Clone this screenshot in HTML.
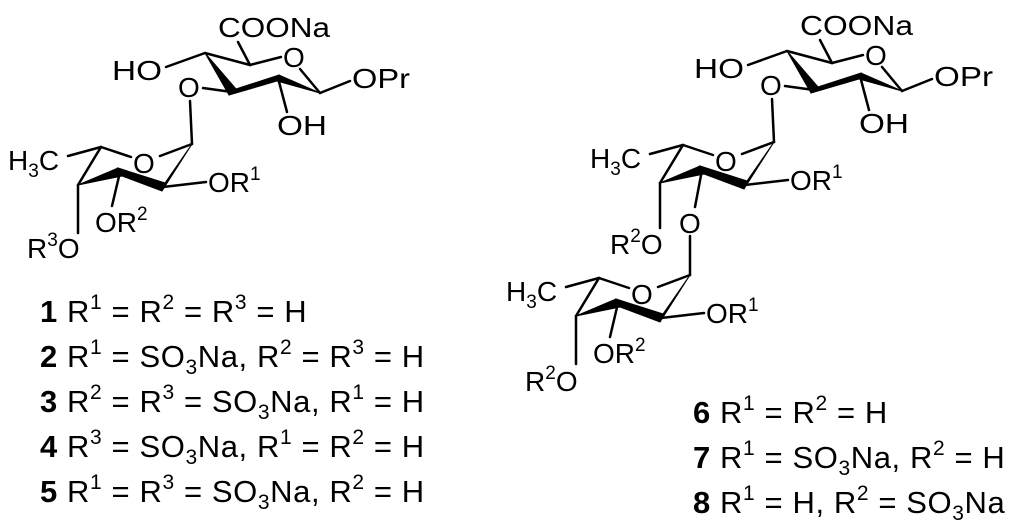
<!DOCTYPE html>
<html><head><meta charset="utf-8"><style>
html,body{margin:0;padding:0;background:#fff;}
svg{display:block;}
text{font-family:"Liberation Sans",Arial,sans-serif;fill:#000;}
</style></head><body>
<svg width="1024" height="528" viewBox="0 0 1024 528" xmlns="http://www.w3.org/2000/svg">
<defs>
<g id="top" stroke="#000" stroke-width="2.5" fill="none" stroke-linecap="round">
  <line x1="205" y1="53" x2="250" y2="65"/>
  <line x1="250" y1="65" x2="281" y2="57"/>
  <line x1="300" y1="69" x2="320" y2="93"/>
  <line x1="250" y1="65" x2="238" y2="42"/>
  <line x1="205" y1="53" x2="166" y2="67"/>
  <line x1="232" y1="92" x2="203" y2="88"/>
  <line x1="320" y1="93" x2="350" y2="81"/>
  <line x1="278" y1="78" x2="287" y2="112"/>
  <polygon points="205,53 236,89 229,95" fill="#000" stroke-width="1"/>
  <polygon points="229,95 236,89 279,75 277,81" fill="#000" stroke-width="1"/>
  <polygon points="277,81 279,75 320,93" fill="#000" stroke-width="1"/>
</g>
<g id="fuc" stroke="#000" stroke-width="2.5" fill="none" stroke-linecap="round">
  <line x1="101" y1="147" x2="131" y2="157"/>
  <line x1="160" y1="156" x2="192" y2="144"/>
  <line x1="101" y1="147" x2="78" y2="185"/>
  <line x1="101" y1="147" x2="68" y2="156"/>
  <line x1="163" y1="187" x2="206" y2="182"/>
  <polygon points="78,185 118,168 122,176" fill="#000" stroke-width="1"/>
  <polygon points="118,168 122,176 162,191 165,183" fill="#000" stroke-width="1"/>
  <polygon points="162,191 165,183 192,144" fill="#000" stroke-width="1"/>
</g>
</defs>

<!-- LEFT -->
<use href="#top"/>
<use href="#fuc"/>
<g stroke="#000" stroke-width="2.5" stroke-linecap="round">
  <line x1="190" y1="101" x2="192" y2="144"/>
  <line x1="120" y1="172" x2="112" y2="206"/>
  <line x1="78" y1="185" x2="78" y2="233"/>
</g>
<g font-size="28">
  <text x="218" y="37" textLength="112" lengthAdjust="spacingAndGlyphs">COONa</text>
  <text x="112" y="80" textLength="50" lengthAdjust="spacingAndGlyphs">HO</text>
  <text x="178" y="97">O</text>
  <text x="283" y="67">O</text>
  <text x="352" y="88" textLength="58" lengthAdjust="spacingAndGlyphs">OPr</text>
  <text x="277" y="135" textLength="50" lengthAdjust="spacingAndGlyphs">OH</text>
  <text x="133" y="173">O</text>
  <text x="8" y="170">H<tspan font-size="19" dy="7">3</tspan><tspan dy="-7">C</tspan></text>
  <text x="208" y="192">OR<tspan font-size="19" dy="-12">1</tspan></text>
  <text x="95" y="232">OR<tspan font-size="19" dy="-12">2</tspan></text>
  <text x="27" y="258">R<tspan font-size="19" dy="-12">3</tspan><tspan dy="12">O</tspan></text>
</g>

<!-- RIGHT -->
<use href="#top" transform="translate(582,-2)"/>
<use href="#fuc" transform="translate(582,-2)"/>
<use href="#fuc" transform="translate(498,131)"/>
<g stroke="#000" stroke-width="2.5" stroke-linecap="round">
  <line x1="772" y1="99" x2="774" y2="142"/>
  <line x1="702" y1="170" x2="695" y2="207"/>
  <line x1="660" y1="183" x2="660" y2="228"/>
  <line x1="690" y1="236" x2="690" y2="275"/>
  <line x1="618" y1="303" x2="610" y2="337"/>
  <line x1="576" y1="316" x2="576" y2="364"/>
</g>
<g font-size="28">
  <text x="800" y="35" textLength="113" lengthAdjust="spacingAndGlyphs">COONa</text>
  <text x="694" y="78" textLength="50" lengthAdjust="spacingAndGlyphs">HO</text>
  <text x="760" y="95">O</text>
  <text x="865" y="65">O</text>
  <text x="934" y="86" textLength="59" lengthAdjust="spacingAndGlyphs">OPr</text>
  <text x="859" y="133" textLength="50" lengthAdjust="spacingAndGlyphs">OH</text>
  <text x="715" y="171">O</text>
  <text x="590" y="168">H<tspan font-size="19" dy="7">3</tspan><tspan dy="-7">C</tspan></text>
  <text x="790" y="190">OR<tspan font-size="19" dy="-12">1</tspan></text>
  <text x="679" y="233">O</text>
  <text x="610" y="254">R<tspan font-size="19" dy="-12">2</tspan><tspan dy="12">O</tspan></text>
  <text x="631" y="304">O</text>
  <text x="506" y="301">H<tspan font-size="19" dy="7">3</tspan><tspan dy="-7">C</tspan></text>
  <text x="706" y="323">OR<tspan font-size="19" dy="-12">1</tspan></text>
  <text x="593" y="363">OR<tspan font-size="19" dy="-12">2</tspan></text>
  <text x="525" y="391">R<tspan font-size="19" dy="-12">2</tspan><tspan dy="12">O</tspan></text>
</g>

<!-- LABELS -->
<g font-size="31" letter-spacing="0.6">
  <text x="40" y="322"><tspan font-weight="bold">1</tspan> R<tspan font-size="21" dy="-13">1</tspan><tspan dy="13"> = R</tspan><tspan font-size="21" dy="-13">2</tspan><tspan dy="13"> = R</tspan><tspan font-size="21" dy="-13">3</tspan><tspan dy="13"> = H</tspan></text>
  <text x="40" y="367"><tspan font-weight="bold">2</tspan> R<tspan font-size="21" dy="-13">1</tspan><tspan dy="13"> = SO</tspan><tspan font-size="21" dy="7">3</tspan><tspan dy="-7">Na, R</tspan><tspan font-size="21" dy="-13">2</tspan><tspan dy="13"> = R</tspan><tspan font-size="21" dy="-13">3</tspan><tspan dy="13"> = H</tspan></text>
  <text x="40" y="412"><tspan font-weight="bold">3</tspan> R<tspan font-size="21" dy="-13">2</tspan><tspan dy="13"> = R</tspan><tspan font-size="21" dy="-13">3</tspan><tspan dy="13"> = SO</tspan><tspan font-size="21" dy="7">3</tspan><tspan dy="-7">Na, R</tspan><tspan font-size="21" dy="-13">1</tspan><tspan dy="13"> = H</tspan></text>
  <text x="40" y="457"><tspan font-weight="bold">4</tspan> R<tspan font-size="21" dy="-13">3</tspan><tspan dy="13"> = SO</tspan><tspan font-size="21" dy="7">3</tspan><tspan dy="-7">Na, R</tspan><tspan font-size="21" dy="-13">1</tspan><tspan dy="13"> = R</tspan><tspan font-size="21" dy="-13">2</tspan><tspan dy="13"> = H</tspan></text>
  <text x="40" y="502"><tspan font-weight="bold">5</tspan> R<tspan font-size="21" dy="-13">1</tspan><tspan dy="13"> = R</tspan><tspan font-size="21" dy="-13">3</tspan><tspan dy="13"> = SO</tspan><tspan font-size="21" dy="7">3</tspan><tspan dy="-7">Na, R</tspan><tspan font-size="21" dy="-13">2</tspan><tspan dy="13"> = H</tspan></text>

  <text x="693" y="423"><tspan font-weight="bold">6</tspan> R<tspan font-size="21" dy="-13">1</tspan><tspan dy="13"> = R</tspan><tspan font-size="21" dy="-13">2</tspan><tspan dy="13"> = H</tspan></text>
  <text x="693" y="468"><tspan font-weight="bold">7</tspan> R<tspan font-size="21" dy="-13">1</tspan><tspan dy="13"> = SO</tspan><tspan font-size="21" dy="7">3</tspan><tspan dy="-7">Na, R</tspan><tspan font-size="21" dy="-13">2</tspan><tspan dy="13"> = H</tspan></text>
  <text x="693" y="513"><tspan font-weight="bold">8</tspan> R<tspan font-size="21" dy="-13">1</tspan><tspan dy="13"> = H, R</tspan><tspan font-size="21" dy="-13">2</tspan><tspan dy="13"> = SO</tspan><tspan font-size="21" dy="7">3</tspan><tspan dy="-7">Na</tspan></text>
</g>
</svg>
</body></html>
